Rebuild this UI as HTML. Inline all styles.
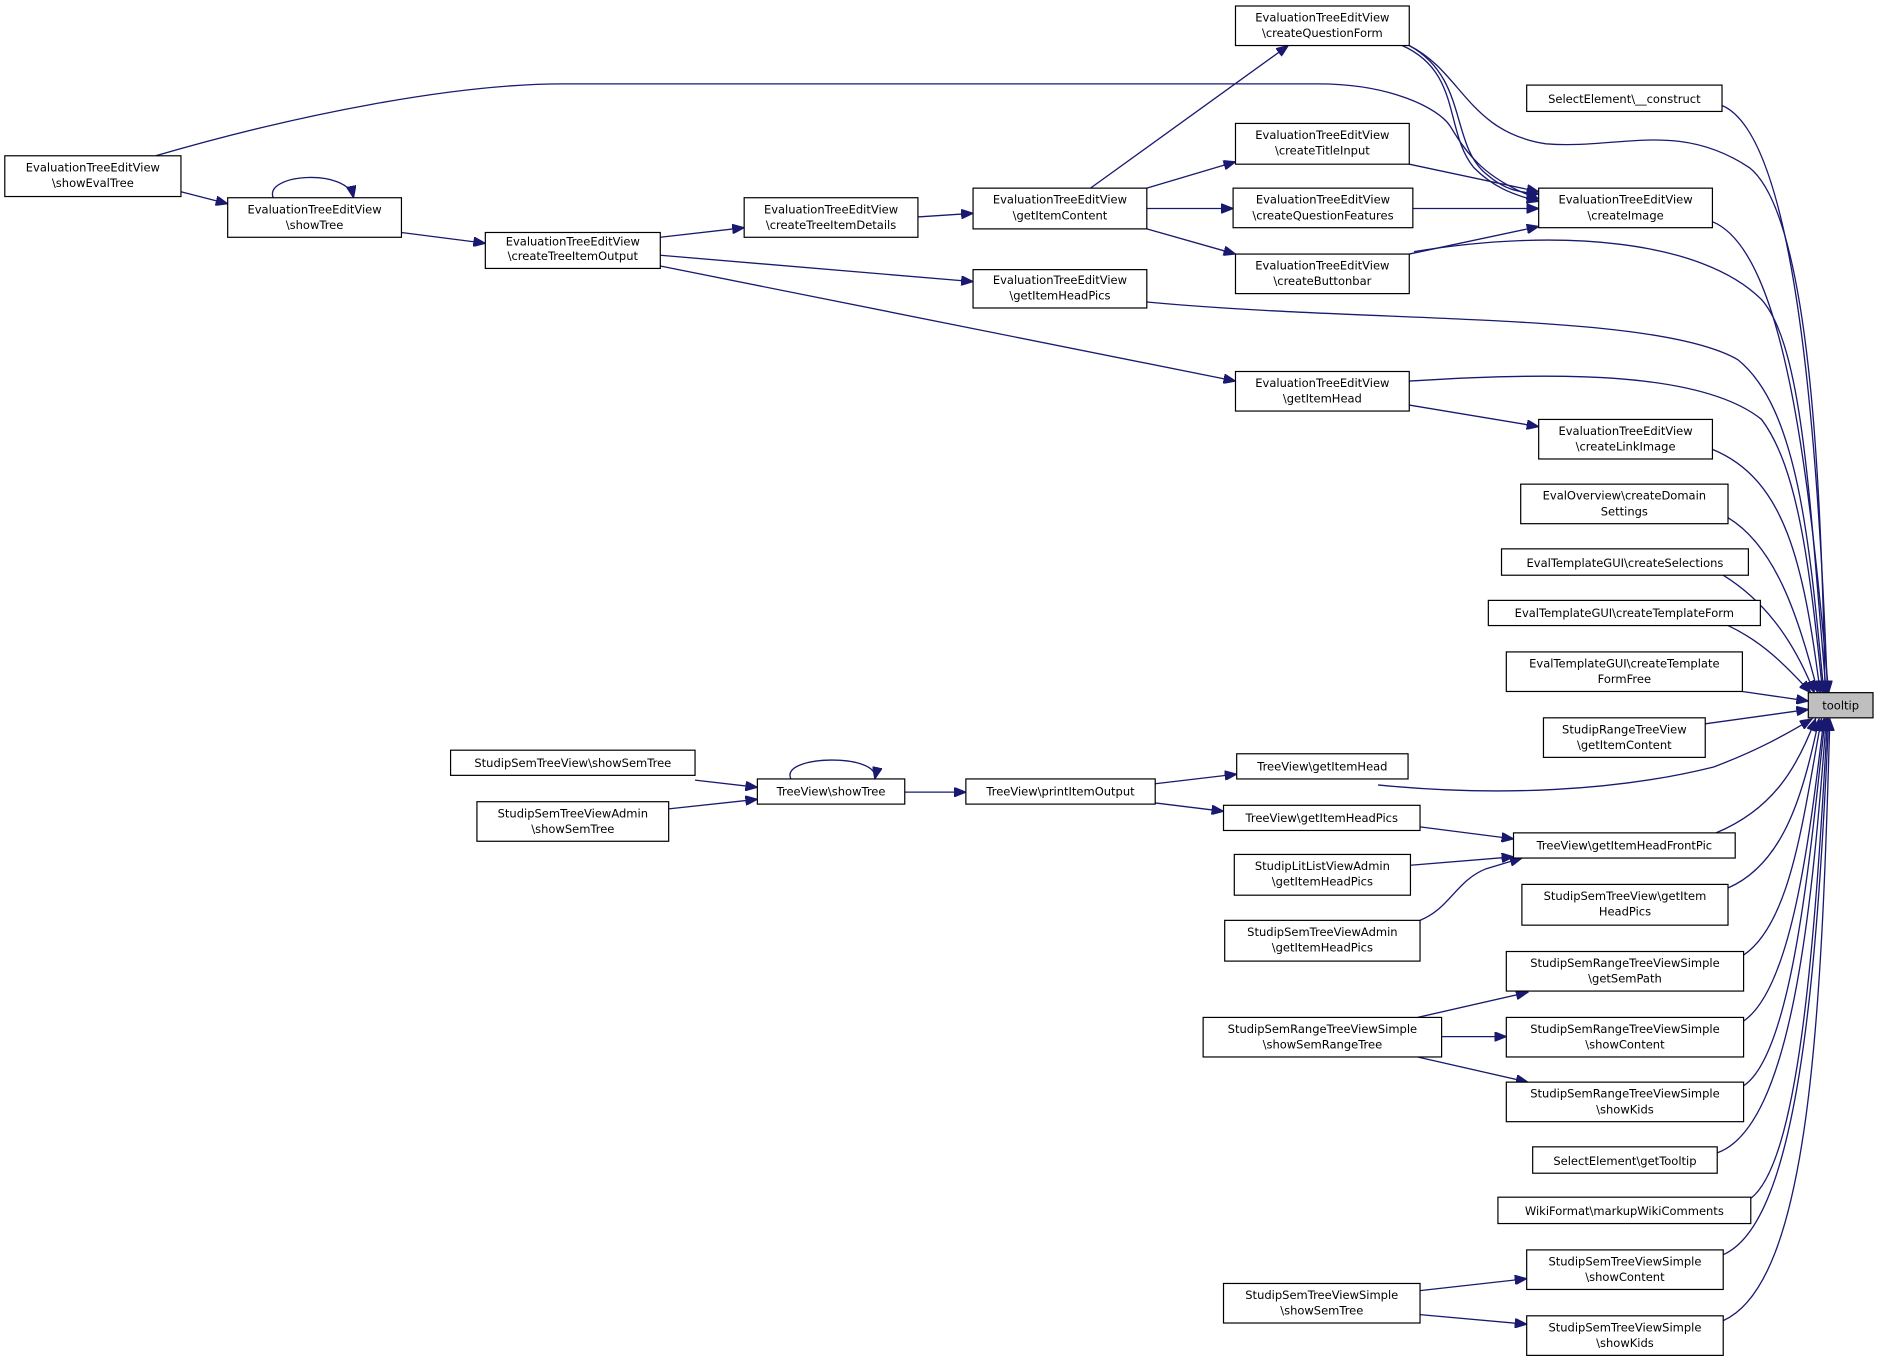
<!DOCTYPE html>
<html><head><meta charset="utf-8"><style>
html,body{margin:0;padding:0;background:#fff;}
svg{display:block}
text{font-family:"DejaVu Sans","Liberation Sans",sans-serif;font-size:9.6px;fill:#000;text-anchor:middle}
.n{fill:#fff;stroke:#000;stroke-width:1}
.e{fill:none;stroke:#191970;stroke-width:1.1}
</style></head><body>
<svg width="1879" height="1361" viewBox="0 0 1568 1135.7" preserveAspectRatio="none">
<defs><marker id="a" markerUnits="userSpaceOnUse" markerWidth="11" markerHeight="8" refX="10" refY="4" orient="auto"><path d="M0,0 L10,4 L0,8 z" fill="#191970" stroke="#191970"/></marker></defs>
<g class="e" marker-end="url(#a)">
<path d="M151,160 L190,170"/>
<path d="M130,130 C250,95 380,70 470,70 L1100,70 C1160,70 1200,90 1210,105 C1225,130 1240,150 1284,166"/>
<path d="M228,165 C220,145 290,140 295,165"/>
<path d="M335,194 L405,203"/>
<path d="M551,198 L621,190"/>
<path d="M551,213 L812,235"/>
<path d="M551,222 L1031,318"/>
<path d="M766,181 L812,178"/>
<path d="M910,157 L1075,38"/>
<path d="M957,157 L1031,135"/>
<path d="M957,174 L1029,174"/>
<path d="M957,191 L1031,212"/>
<path d="M1170,38 C1220,60 1205,110 1230,140 C1245,155 1260,162 1284,168"/>
<path d="M1176,38 C1225,65 1210,120 1240,145 C1255,158 1265,160 1284,162"/>
<path d="M1176,137 L1284,160"/>
<path d="M1179,174 L1284,174"/>
<path d="M1176,212 L1284,189"/>
<path d="M1176,338 L1284,356"/>
<path d="M580,651 L632,657"/>
<path d="M558,675 L632,667"/>
<path d="M660,650 C650,630 735,628 730,650"/>
<path d="M755,661 L806,661"/>
<path d="M964,654 L1032,646"/>
<path d="M964,670 L1021,677"/>
<path d="M1185,690 L1263,700"/>
<path d="M1177,722 L1263,715"/>
<path d="M1185,768 C1210,758 1215,735 1240,725 L1270,716"/>
<path d="M1183,849 L1275,828"/>
<path d="M1203,865 L1257,865"/>
<path d="M1183,882 L1275,903"/>
<path d="M1185,1077 L1274,1067"/>
<path d="M1185,1097 L1274,1105"/>
<!-- to tooltip -->
<path d="M1176,38 C1220,60 1225,110 1290,120 C1350,125 1400,100 1460,140 C1510,180 1520,400 1523,578"/>
<path d="M1437,88 C1490,110 1515,300 1525,578"/>
<path d="M1429,185 C1490,210 1510,400 1526,578"/>
<path d="M1180,210 C1300,190 1420,200 1470,250 C1505,290 1510,420 1524,578"/>
<path d="M957,252 C1150,270 1380,260 1450,300 C1500,340 1510,450 1522,578"/>
<path d="M1176,318 C1300,310 1420,310 1470,350 C1500,390 1510,470 1521,578"/>
<path d="M1429,375 C1490,400 1505,470 1519,578"/>
<path d="M1442,432 C1480,455 1500,510 1517,578"/>
<path d="M1438,480 C1470,500 1495,530 1514,578"/>
<path d="M1442,522 C1470,535 1490,555 1511,578"/>
<path d="M1454,577 L1509,585"/>
<path d="M1423,604 L1509,592"/>
<path d="M1150,655 C1250,665 1350,660 1430,640 C1470,625 1495,610 1512,600"/>
<path d="M1432,695 C1480,675 1500,640 1515,600"/>
<path d="M1442,741 C1490,720 1505,660 1518,600"/>
<path d="M1455,797 C1495,770 1505,680 1520,600"/>
<path d="M1455,852 C1495,825 1510,700 1522,600"/>
<path d="M1455,906 C1495,880 1510,720 1523,600"/>
<path d="M1433,962 C1495,940 1512,760 1524,600"/>
<path d="M1461,1000 C1500,970 1514,800 1525,600"/>
<path d="M1438,1047 C1500,1020 1516,820 1526,600"/>
<path d="M1438,1102 C1510,1070 1520,850 1527,600"/>
</g>
<g>
<rect class="n" x="4" y="130" width="147" height="34"/><text x="77.5" y="143">EvaluationTreeEditView</text><text x="77.5" y="156">\showEvalTree</text>
<rect class="n" x="190" y="165" width="145" height="33"/><text x="262.5" y="178">EvaluationTreeEditView</text><text x="262.5" y="191">\showTree</text>
<rect class="n" x="405" y="194" width="146" height="30"/><text x="478" y="205">EvaluationTreeEditView</text><text x="478" y="217">\createTreeItemOutput</text>
<rect class="n" x="621" y="165" width="145" height="33"/><text x="693.5" y="178">EvaluationTreeEditView</text><text x="693.5" y="191">\createTreeItemDetails</text>
<rect class="n" x="812" y="157" width="145" height="34"/><text x="884.5" y="170">EvaluationTreeEditView</text><text x="884.5" y="183">\getItemContent</text>
<rect class="n" x="812" y="225" width="145" height="32"/><text x="884.5" y="237">EvaluationTreeEditView</text><text x="884.5" y="250">\getItemHeadPics</text>
<rect class="n" x="1031" y="5" width="145" height="33"/><text x="1103.5" y="18">EvaluationTreeEditView</text><text x="1103.5" y="31">\createQuestionForm</text>
<rect class="n" x="1031" y="103" width="145" height="34"/><text x="1103.5" y="116">EvaluationTreeEditView</text><text x="1103.5" y="129">\createTitleInput</text>
<rect class="n" x="1029" y="157" width="150" height="33"/><text x="1104" y="170">EvaluationTreeEditView</text><text x="1104" y="183">\createQuestionFeatures</text>
<rect class="n" x="1031" y="212" width="145" height="33"/><text x="1103.5" y="225">EvaluationTreeEditView</text><text x="1103.5" y="238">\createButtonbar</text>
<rect class="n" x="1031" y="310" width="145" height="33"/><text x="1103.5" y="323">EvaluationTreeEditView</text><text x="1103.5" y="336">\getItemHead</text>
<rect class="n" x="1284" y="157" width="145" height="33"/><text x="1356.5" y="170">EvaluationTreeEditView</text><text x="1356.5" y="183">\createImage</text>
<rect class="n" x="1284" y="350" width="145" height="33"/><text x="1356.5" y="363">EvaluationTreeEditView</text><text x="1356.5" y="376">\createLinkImage</text>
<rect class="n" x="1274" y="71" width="163" height="22"/><text x="1355.5" y="86">SelectElement\__construct</text>
<rect class="n" x="1269" y="404" width="173" height="33"/><text x="1355.5" y="417">EvalOverview\createDomain</text><text x="1355.5" y="430">Settings</text>
<rect class="n" x="1253" y="458" width="206" height="22"/><text x="1356" y="473">EvalTemplateGUI\createSelections</text>
<rect class="n" x="1242" y="501" width="227" height="21"/><text x="1355.5" y="515">EvalTemplateGUI\createTemplateForm</text>
<rect class="n" x="1257" y="544" width="197" height="33"/><text x="1355.5" y="557">EvalTemplateGUI\createTemplate</text><text x="1355.5" y="570">FormFree</text>
<rect class="n" x="1288" y="599" width="135" height="33"/><text x="1355.5" y="612">StudipRangeTreeView</text><text x="1355.5" y="625">\getItemContent</text>
<rect x="1509" y="578" width="54" height="21" fill="#bfbfbf" stroke="#000"/><text x="1536" y="592">tooltip</text>
<rect class="n" x="376" y="626" width="204" height="21"/><text x="478" y="640">StudipSemTreeView\showSemTree</text>
<rect class="n" x="398" y="669" width="160" height="33"/><text x="478" y="682">StudipSemTreeViewAdmin</text><text x="478" y="695">\showSemTree</text>
<rect class="n" x="632" y="650" width="123" height="21"/><text x="693.5" y="664">TreeView\showTree</text>
<rect class="n" x="806" y="650" width="158" height="21"/><text x="885" y="664">TreeView\printItemOutput</text>
<rect class="n" x="1032" y="629" width="143" height="21"/><text x="1103.5" y="643">TreeView\getItemHead</text>
<rect class="n" x="1021" y="672" width="164" height="21"/><text x="1103" y="686">TreeView\getItemHeadPics</text>
<rect class="n" x="1263" y="695" width="185" height="21"/><text x="1355.5" y="709">TreeView\getItemHeadFrontPic</text>
<rect class="n" x="1030" y="713" width="147" height="34"/><text x="1103.5" y="726">StudipLitListViewAdmin</text><text x="1103.5" y="739">\getItemHeadPics</text>
<rect class="n" x="1022" y="768" width="163" height="34"/><text x="1103.5" y="781">StudipSemTreeViewAdmin</text><text x="1103.5" y="794">\getItemHeadPics</text>
<rect class="n" x="1270" y="738" width="172" height="34"/><text x="1356" y="751">StudipSemTreeView\getItem</text><text x="1356" y="764">HeadPics</text>
<rect class="n" x="1257" y="794" width="198" height="33"/><text x="1356" y="807">StudipSemRangeTreeViewSimple</text><text x="1356" y="820">\getSemPath</text>
<rect class="n" x="1004" y="849" width="199" height="33"/><text x="1103.5" y="862">StudipSemRangeTreeViewSimple</text><text x="1103.5" y="875">\showSemRangeTree</text>
<rect class="n" x="1257" y="849" width="198" height="33"/><text x="1356" y="862">StudipSemRangeTreeViewSimple</text><text x="1356" y="875">\showContent</text>
<rect class="n" x="1257" y="903" width="198" height="33"/><text x="1356" y="916">StudipSemRangeTreeViewSimple</text><text x="1356" y="929">\showKids</text>
<rect class="n" x="1279" y="957" width="154" height="22"/><text x="1356" y="972">SelectElement\getTooltip</text>
<rect class="n" x="1250" y="999" width="211" height="22"/><text x="1355.5" y="1014">WikiFormat\markupWikiComments</text>
<rect class="n" x="1274" y="1043" width="164" height="33"/><text x="1356" y="1056">StudipSemTreeViewSimple</text><text x="1356" y="1069">\showContent</text>
<rect class="n" x="1021" y="1071" width="164" height="33"/><text x="1103" y="1084">StudipSemTreeViewSimple</text><text x="1103" y="1097">\showSemTree</text>
<rect class="n" x="1274" y="1098" width="164" height="33"/><text x="1356" y="1111">StudipSemTreeViewSimple</text><text x="1356" y="1124">\showKids</text>
</g>
</svg>
</body></html>
